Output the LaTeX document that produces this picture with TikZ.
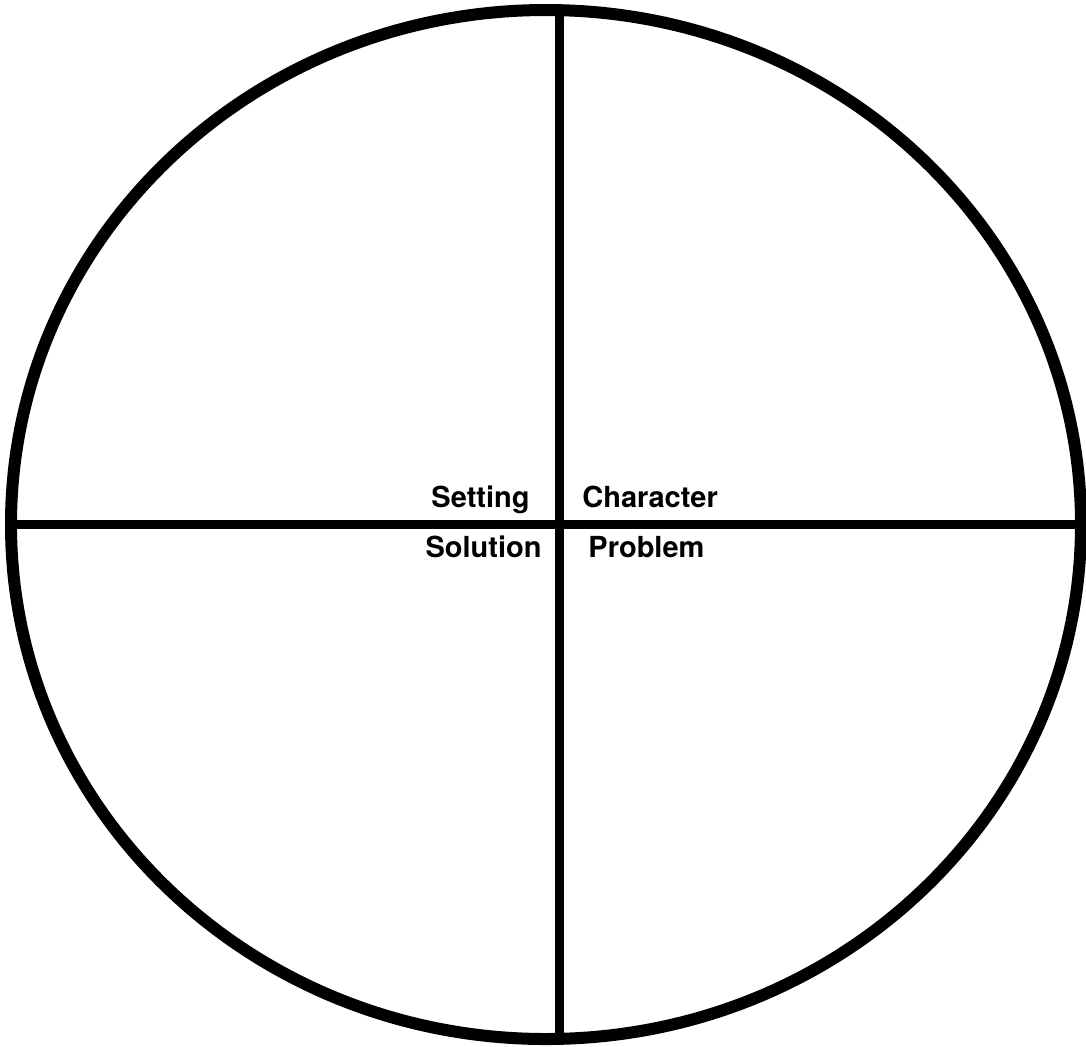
\documentclass[tikz,border=0pt]{standalone}
\usepackage{fontspec}
\setmainfont{TeX Gyre Heros}
\usetikzlibrary{positioning}
\tikzset{
  rim/.style   = {line width=6pt},
  wire/.style  = {line width=4.3pt, line cap=butt},
  lab/.style   = {font=\bfseries\fontsize{14.5pt}{17pt}\selectfont, inner sep=0pt},
}
\begin{document}
\begin{tikzpicture}[x=0.5pt,y=-0.5pt]
  \useasboundingbox (0,0) rectangle (1086,1046);
  \draw[rim] (546,524.5) ellipse [x radius=535, y radius=514.5];
  \coordinate (top) at (559.5,10.5);
  \coordinate (bot) at (559.5,1038.5);
  \coordinate (west) at (11,524.5);
  \coordinate (east) at (1081,524.5);
  \draw[wire] (top) -- (bot);
  \draw[wire] (west) -- (east);
  \node[lab,anchor=base east] (setting) at (530,507) {Setting};
  \node[lab,anchor=base west] (character) at (582,507) {Character};
  \node[lab,anchor=base east] (solution) at (542,557) {Solution};
  \node[lab,anchor=base west] (problem) at (588,557) {Problem};
\end{tikzpicture}
\end{document}
